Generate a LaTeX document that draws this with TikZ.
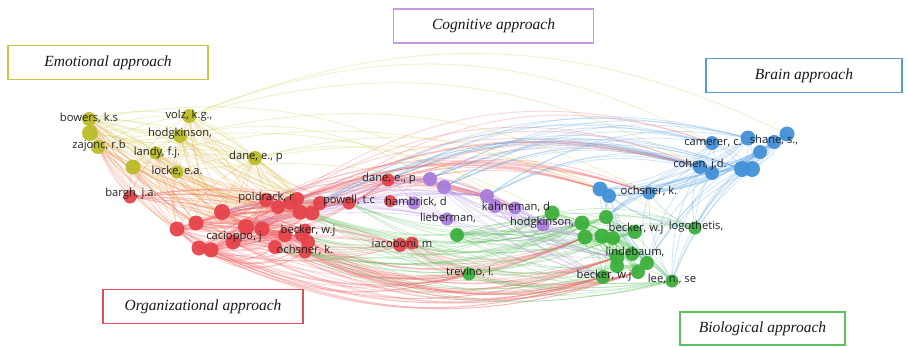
\documentclass[tikz,border=0pt]{standalone}
\usepackage{fontspec}
\setmainfont{Liberation Serif}
\newfontfamily\labfont{Open Sans}
\definecolor{cy}{HTML}{BABC28}
\definecolor{cr}{HTML}{E6434B}
\definecolor{cg}{HTML}{3CB03C}
\definecolor{cb}{HTML}{4390D8}
\definecolor{cp}{HTML}{A97CDB}
\definecolor{ley}{HTML}{CACA40}
\definecolor{ler}{HTML}{EE6060}
\definecolor{leo}{HTML}{E99A48}
\definecolor{leg}{HTML}{58C058}
\definecolor{leb}{HTML}{58A0E0}
\definecolor{lep}{HTML}{B08AE2}
\definecolor{bxy}{HTML}{C9C843}
\definecolor{bxp}{HTML}{C39BE5}
\definecolor{bxb}{HTML}{5B9BD5}
\definecolor{bxr}{HTML}{E0505A}
\definecolor{bxg}{HTML}{5CC35C}
\definecolor{labc}{HTML}{222222}
\pgfdeclarelayer{edges}
\pgfsetlayers{edges,main}
\begin{document}
\begin{tikzpicture}[x=1pt,y=-1pt,
  nd/.style={circle,inner sep=0pt,minimum size=#1,draw=none,fill opacity=0.95},
  ny/.style={nd=#1,fill=cy}, nr/.style={nd=#1,fill=cr}, ng/.style={nd=#1,fill=cg},
  nb/.style={nd=#1,fill=cb}, np/.style={nd=#1,fill=cp},
  lab/.style={font=\labfont\fontsize{11.2}{13}\selectfont,text=labc,inner sep=0pt},
  lnk/.style={line width=0.85pt,draw opacity=0.28},
  ey/.style={lnk,draw=ley}, er/.style={lnk,draw=ler}, eo/.style={lnk,draw=leo},
  eg/.style={lnk,draw=leg}, eb/.style={lnk,draw=leb}, ep/.style={lnk,draw=lep},
  box/.style={draw=#1,line width=1.2pt,fill=white,minimum width=200pt,minimum height=34pt,
    inner sep=0pt,font=\fontsize{15.5}{18}\selectfont\itshape,text=black!90}]
\useasboundingbox (0,0) rectangle (908,346);
% yellow
\node[ny=14] (y1) at (89,119) {};
\node[ny=16] (y2) at (90,133) {};
\node[ny=14] (y3) at (98,147) {};
\node[ny=14] (y4) at (189,116) {};
\node[ny=14] (y5) at (180,136) {};
\node[ny=13] (y6) at (156,153) {};
\node[ny=15] (y7) at (133,167) {};
\node[ny=13] (y8) at (177,172) {};
\node[ny=14] (y9) at (255,158) {};
% red
\node[nr=13] (r1) at (130,197) {};
\node[nr=14] (r2) at (266,200) {};
\node[nr=16] (r3) at (222,212) {};
\node[nr=15] (r4) at (196,223) {};
\node[nr=15] (r5) at (177,229) {};
\node[nr=15] (r6) at (199,248) {};
\node[nr=15] (r7) at (211,250) {};
\node[nr=16] (r8) at (246,227) {};
\node[nr=15] (r9) at (262,229) {};
\node[nr=14] (r10) at (278,207) {};
\node[nr=14] (r11) at (290,203) {};
\node[nr=14] (r12) at (297,199) {};
\node[nr=15] (r13) at (300,212) {};
\node[nr=15] (r14) at (312,213) {};
\node[nr=14] (r15) at (320,203) {};
\node[nr=14] (r16) at (285,235) {};
\node[nr=14] (r17) at (275,247) {};
\node[nr=14] (r18) at (302,235) {};
\node[nr=14] (r19) at (308,242) {};
\node[nr=13] (r20) at (305,252) {};
\node[nr=15] (r21) at (233,242) {};
\node[nr=13] (r22) at (349,203) {};
\node[nr=13] (r23) at (388,180) {};
\node[nr=14] (r25) at (400,245) {};
\node[nr=13] (r26) at (412,243) {};
\node[nr=13] (r27) at (305,230) {};
% purple
\node[np=14] (p1) at (430,179) {};
\node[np=14] (p2) at (444,187) {};
\node[np=13] (p3) at (414,203) {};
\node[np=14] (p4) at (487,196) {};
\node[np=14] (p5) at (495,206) {};
\node[np=13] (p6) at (515,208) {};
\node[np=13] (p7) at (447,219) {};
\node[np=13] (p8) at (543,225) {};
\node[nr=12] (r24) at (390,201) {};
% green
\node[ng=14] (g1) at (457,235) {};
\node[ng=15] (g2) at (552,213) {};
\node[ng=15] (g3) at (582,223) {};
\node[ng=15] (g4) at (585,237) {};
\node[ng=15] (g5) at (602,236) {};
\node[ng=14] (g6) at (606,217) {};
\node[ng=14] (g7) at (613,238) {};
\node[ng=14] (g8) at (635,232) {};
\node[ng=13] (g9) at (695,228) {};
\node[ng=15] (g10) at (617,257) {};
\node[ng=14] (g11) at (632,254) {};
\node[ng=14] (g12) at (647,263) {};
\node[ng=14] (g13) at (638,272) {};
\node[ng=14] (g14) at (603,277) {};
\node[ng=13] (g15) at (672,281) {};
\node[ng=13] (g16) at (469,274) {};
\node[ng=14] (g17) at (617,266) {};
% blue
\node[nb=14] (b1) at (712,143) {};
\node[nb=15] (b2) at (748,138) {};
\node[nb=15] (b3) at (787,134) {};
\node[nb=14] (b4) at (774,142) {};
\node[nb=14] (b5) at (760,152) {};
\node[nb=16] (b6) at (742,169) {};
\node[nb=16] (b7) at (752,169) {};
\node[nb=14] (b8) at (700,167) {};
\node[nb=14] (b9) at (712,173) {};
\node[nb=13] (b10) at (649,193) {};
\node[nb=15] (b11) at (600,189) {};
\node[nb=14] (b12) at (609,196) {};
% edges
\begin{pgfonlayer}{edges}
\foreach \a/\b in {y1/y4,y1/y5,y1/y6,y1/y8,y1/y9,y2/y4,y2/y5,y2/y8,y2/y9,y3/y4,y3/y5,y3/y6,y3/y8,y3/y9,y4/y5,y4/y6,y4/y8,y4/y9,y5/y8,y5/y9,y6/y9,y7/y4,y7/y5,y7/y9,y8/y9,y6/y8,y7/y8,y1/y2,y2/y3,y1/y3,y6/y7,y2/y6,y3/y7}
  {\draw[ey] (\a.center) to[bend left=12] (\b.center);}
\foreach \a in {y1,y2,y3,y4,y5,y6,y7,y8,y9}
  {\foreach \b in {r3,r5,r8,r10,r13,r15,r21,r22}
    {\draw[eo] (\a.center) to[bend right=14] (\b.center);}}
\foreach \a in {y1,y2,y4,y5,y9}
  {\foreach \b in {r4,r9,r12,r14}
    {\draw[ey] (\a.center) to[bend left=10] (\b.center);}}
\foreach \a in {y1,y3,y7,y6}
  {\foreach \b in {r1,r4,r6}
    {\draw[er] (\a.center) to[bend right=10] (\b.center);}}
\foreach \a/\b/\t in {y4/b1/25,y4/b8/22,y5/b10/20,y9/p4/24,y9/b11/20,y1/p6/22,y3/g2/18,y5/p1/22,y4/b3/24,y9/g9/18,y6/b12/18,y8/p8/16}
  {\draw[ey] (\a.center) to[bend left=\t] (\b.center);}
\foreach \a in {r1,r3,r4,r5,r6,r7,r8,r9,r21}
  {\foreach \b in {r10,r12,r13,r14,r15,r16,r17,r19,r20,r22,r25,r27}
    {\draw[er] (\a.center) to[bend left=10] (\b.center);}}
\foreach \a in {r3,r4,r5,r6,r7,r21,r8,r9}
  {\foreach \b in {r2,r11,r18,r26,r14,r23}
    {\draw[er] (\a.center) to[bend right=14] (\b.center);}}
\foreach \a in {r5,r6,r7}
  {\foreach \b in {r17,r20,r19}
    {\draw[er] (\a.center) to[bend right=35] (\b.center);}}
\foreach \a in {r3,r5,r6,r7,r17,r19,r20,r21,r25,r26,r9,r16}
  {\foreach \b in {g14,g13,g4,g10,g16}
    {\draw[er] (\a.center) to[bend right=22] (\b.center);}}
\foreach \a in {r13,r14,r18,r22,r25,g1,g16,r20,r17}
  {\foreach \b in {g2,g3,g6,g8,g12,g15}
    {\draw[eg] (\a.center) to[bend right=18] (\b.center);}}
\foreach \a in {r10,r12,r15,r22,r23,r2,r11}
  {\foreach \b in {b10,b11,b8,p4,p6}
    {\draw[er] (\a.center) to[bend left=20] (\b.center);}}
\foreach \a in {r10,r15}
  {\foreach \b in {b1,b8}
    {\draw[er] (\a.center) to[bend left=28] (\b.center);}}
\foreach \a in {b1,b8,b9,b6,b2}
  {\foreach \b in {p1,p2,r23,r15,p4}
    {\draw[eb] (\b.center) to[bend left=22] (\a.center);}}
\foreach \a in {r3,r8,r10,r13,r14,r22,r23,r24}
  {\foreach \b in {p1,p3,p4,p7}
    {\draw[ep] (\a.center) to[bend left=10] (\b.center);}}
\foreach \a/\b in {p1/p2,p1/p4,p2/p5,p4/p6,p5/p6,p3/p7,p7/p8,p6/p8,p1/p6,p3/p4,p2/p8,p4/p8}
  {\draw[ep] (\a.center) to[bend left=12] (\b.center);}
\foreach \a in {p1,p2,p4,p5,p6,p7,p8}
  {\foreach \b in {g3,g5,g10,g14}
    {\draw[ep] (\a.center) to[bend right=15] (\b.center);}}
\foreach \a in {g2,g3,g4,g5,g6,g7,g1}
  {\foreach \b in {g8,g9,g10,g11,g12,g13,g14,g15,g17}
    {\draw[eg] (\a.center) to[bend left=15] (\b.center);}}
\foreach \a in {b1,b2,b3,b4,b5}
  {\foreach \b in {b6,b7,b8,b9,b10,b11,b12}
    {\draw[eb] (\a.center) to[bend left=15] (\b.center);}}
\foreach \a in {b10,b11,b12,b8,b9,b6,b7,b3}
  {\foreach \b in {g9,g15,g12,g6}
    {\draw[eb] (\b.center) to[bend left=15] (\a.center);}}
\end{pgfonlayer}
% labels
\node[lab] (l1) at (89,118) {bowers, k.s};
\node[lab] (l2) at (99,146) {zajonc, r.b};
\node[lab] (l3) at (189,116) {volz, k.g.,};
\node[lab] (l4) at (180,134) {hodgkinson,};
\node[lab] (l5) at (157,153) {landy, f.j.};
\node[lab] (l6) at (177,171) {locke, e.a.};
\node[lab] (l7) at (256,157) {dane, e., p};
\node[lab] (l8) at (131,194) {bargh, j.a.};
\node[lab] (l9) at (266,198) {poldrack, r};
\node[lab] (l10) at (349,201) {powell, t.c};
\node[lab] (l11) at (234,237) {cacioppo, j};
\node[lab] (l12) at (308,231) {becker, w.j};
\node[lab] (l13) at (305,250) {ochsner, k.};
\node[lab] (l14) at (389,179) {dane, e., p};
\node[lab] (l15) at (416,202) {hambrick, d};
\node[lab] (l16) at (448,218) {lieberman,};
\node[lab] (l17) at (516,207) {kahneman, d};
\node[lab] (l18) at (542,223) {hodgkinson,};
\node[lab] (l19) at (402,244) {iacoboni, m};
\node[lab] (l20) at (470,272) {trevino, l.};
\node[lab] (l21) at (713,143) {camerer, c.};
\node[lab] (l22) at (774,140) {shane, s.,};
\node[lab] (l23) at (700,165) {cohen, j.d.};
\node[lab] (l24) at (649,191) {ochsner, k.};
\node[lab] (l25) at (636,229) {becker, w.j};
\node[lab] (l26) at (696,227) {logothetis,};
\node[lab] (l27) at (635,252) {lindebaum,};
\node[lab] (l28) at (604,276) {becker, w.j};
\node[lab] (l29) at (672,279) {lee, n., se};
% boxes
\node[box=bxy] (emo) at (108,62.5) {Emotional approach};
\node[box=bxp] (cog) at (493.5,26) {Cognitive approach};
\node[box=bxb,minimum width=196pt] (brain) at (804,75.5) {Brain approach};
\node[box=bxr] (org) at (203,306.5) {Organizational approach};
\node[box=bxg,minimum width=165pt,minimum height=33pt] (bio) at (762.5,328.5) {Biological approach};
\end{tikzpicture}
\end{document}
